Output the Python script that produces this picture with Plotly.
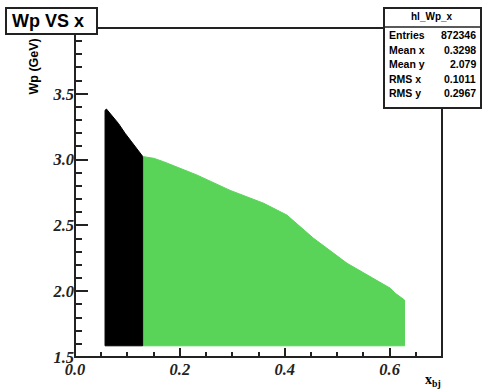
import plotly.graph_objects as go

# ---- data (region boundaries of the 2D histogram) ----
w_min = 1.585
black_x_top = [0.0573, 0.0600, 0.0701, 0.0828, 0.0955, 0.1083, 0.1210, 0.1290]
black_y_top = [3.375, 3.384, 3.339, 3.275, 3.200, 3.136, 3.073, 3.025]

green_x_top = [0.1290, 0.1310, 0.1500, 0.1690, 0.2000, 0.2325, 0.2960, 0.3600,
               0.4040, 0.4550, 0.5190, 0.5830, 0.6016, 0.6110, 0.6208, 0.6285]
green_y_top = [3.010, 3.022, 3.010, 2.984, 2.934, 2.883, 2.766, 2.668,
               2.579, 2.402, 2.212, 2.060, 2.022, 1.984, 1.958, 1.933]

x_ticks = [0.0, 0.2, 0.4, 0.6]
y_ticks = [1.5, 2.0, 2.5, 3.0, 3.5]

stats_title = "hl_Wp_x"
stats_labels = ["Entries", "Mean x", "Mean y", "RMS x", "RMS y"]
stats_values = ["872346", "0.3298", "2.079", "0.1011", "0.2967"]

black_color = "#000000"
green_color = "#59d459"


def region(xs_top, ys_top, ymin):
    xs = [xs_top[0]] + list(xs_top) + [xs_top[-1], xs_top[0]]
    ys = [ymin] + list(ys_top) + [ymin, ymin]
    return xs, ys


fig = go.Figure()
bx, by = region(black_x_top, black_y_top, w_min)
gx, gy = region(green_x_top, green_y_top, w_min)
fig.add_trace(go.Scatter(x=gx, y=gy, fill="toself", fillcolor=green_color,
                         mode="lines", line=dict(color=green_color, width=1),
                         hoverinfo="skip", showlegend=False))
fig.add_trace(go.Scatter(x=bx, y=by, fill="toself", fillcolor=black_color,
                         mode="lines", line=dict(color=black_color, width=1),
                         hoverinfo="skip", showlegend=False))

# plot area: x 75..442 px, y 28..357 px
W_PLOT, H_PLOT, L, T = 367.0, 329.0, 75.0, 28.0


def px(x):
    return (x - L) / W_PLOT


def py(y):
    return (T + H_PLOT - y) / H_PLOT


tick_font = dict(family="Liberation Serif, DejaVu Serif, serif", size=16.5, color="#222",
                 weight="bold", style="italic")


def fmt(v):
    return f"<b><i>{v:.1f}</i></b>"


fig.update_layout(
    width=488, height=390,
    margin=dict(l=75, r=46, t=28, b=33, autoexpand=False),
    paper_bgcolor="white", plot_bgcolor="white",
    xaxis=dict(range=[0, 0.7], tickmode="array", tickvals=x_ticks,
               ticktext=[fmt(v) for v in x_ticks], automargin=False,
               ticks="inside", ticklen=9, tickwidth=1.5, tickcolor="#222",
               minor=dict(tickmode="array", tickvals=[0.05, 0.1, 0.15, 0.25, 0.3, 0.35, 0.45, 0.5, 0.55, 0.65],
                          ticks="inside", ticklen=5, tickwidth=1.5, tickcolor="#222"),
               showgrid=False, zeroline=False, showline=False, tickfont=tick_font),
    yaxis=dict(range=[1.5, 4.0], tickmode="array", tickvals=y_ticks,
               ticktext=[fmt(v) for v in y_ticks], automargin=False,
               ticks="inside", ticklen=13, tickwidth=1.5, tickcolor="#222",
               minor=dict(tickmode="array",
                          tickvals=[round(1.5 + 0.1 * i, 2) for i in range(1, 25) if i % 5 != 0],
                          ticks="inside", ticklen=7, tickwidth=1.5, tickcolor="#222"),
               showgrid=False, zeroline=False, showline=False, tickfont=tick_font),
)

shapes = [
    dict(type="rect", xref="paper", yref="paper", x0=0, x1=1, y0=0, y1=1,
         line=dict(color="#222", width=2), fillcolor="rgba(0,0,0,0)", layer="above"),
    dict(type="rect", xref="paper", yref="paper", x0=px(6), x1=px(97), y0=py(34), y1=py(8),
         line=dict(color="#222", width=2), fillcolor="white", layer="above"),
    dict(type="rect", xref="paper", yref="paper", x0=px(384), x1=px(481), y0=py(108), y1=py(8),
         line=dict(color="#222", width=2), fillcolor="white", layer="above"),
    dict(type="line", xref="paper", yref="paper", x0=px(384), x1=px(481), y0=py(27), y1=py(27),
         line=dict(color="#222", width=1.5), layer="above"),
]
fig.update_layout(shapes=shapes)

ann = []
ann.append(dict(text="Wp VS x", xref="paper", yref="paper", x=px(47.5), y=py(21.5),
                xanchor="center", yanchor="middle", showarrow=False,
                font=dict(family="Liberation Sans", size=18, color="black", weight="bold")))
ann.append(dict(text=stats_title, xref="paper", yref="paper", x=px(432), y=py(17),
                xanchor="center", yanchor="middle", showarrow=False,
                font=dict(family="Liberation Sans", size=10, color="black", weight="bold")))
rows_y = [35, 49.5, 64, 78.5, 93]
for lab, val, yy in zip(stats_labels, stats_values, rows_y):
    ann.append(dict(text=lab, xref="paper", yref="paper", x=px(387), y=py(yy),
                    xanchor="left", yanchor="middle", showarrow=False,
                    font=dict(family="Liberation Sans", size=10.5, color="black", weight="bold")))
    ann.append(dict(text=val, xref="paper", yref="paper", x=px(478), y=py(yy),
                    xanchor="right", yanchor="middle", showarrow=False,
                    font=dict(family="Liberation Sans", size=10.5, color="black", weight="bold")))
ann.append(dict(text="Wp (GeV)", xref="paper", yref="paper", x=px(33.5), y=py(67),
                xanchor="center", yanchor="middle", textangle=-90, showarrow=False,
                font=dict(family="Liberation Sans", size=12.5, color="black", weight="bold")))
ann.append(dict(text="<b>x<sub>bj</sub></b>", xref="paper", yref="paper", x=px(443), y=py(380),
                xanchor="right", yanchor="middle", showarrow=False,
                font=dict(family="Liberation Serif", size=14, color="black")))
fig.update_layout(annotations=ann)

fig.write_html("out.html")
